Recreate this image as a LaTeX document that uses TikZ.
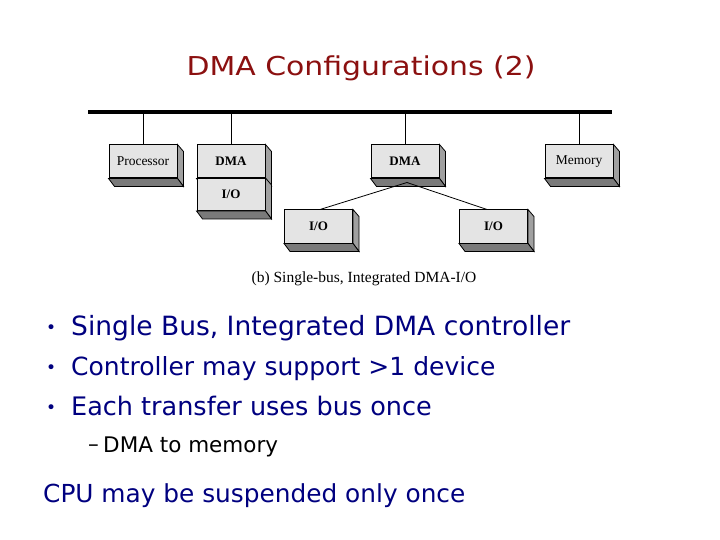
\documentclass[tikz,border=0pt]{standalone}
\usepackage{fontspec}
\setmainfont{DejaVu Sans}
\newfontfamily\titlefont[FakeStretch=1.15]{DejaVu Sans}
\newfontfamily\boxfont{Liberation Serif}
\usetikzlibrary{calc}
\definecolor{titlered}{HTML}{8B1010}
\definecolor{navy}{HTML}{00007F}
\definecolor{boxfront}{HTML}{E4E4E4}
\definecolor{boxside}{HTML}{A0A0A0}
\definecolor{boxbottom}{HTML}{7A7A7A}
\newcommand\ExtrudeBox[1]{%
  \filldraw[sideface] (#1.north east) -- ++(6,7) -- ($(#1.south east)+(6,8)$) -- (#1.south east) -- cycle;
  \filldraw[bottomface] (#1.south west) -- (#1.south east) -- ++(6,8) -- ($(#1.south west)+(6,8)$) -- cycle;
}
\begin{document}
\begin{tikzpicture}[x=1pt,y=-1pt,
 unit/.style={draw=black, line width=1pt, fill=boxfront, minimum width=68pt, minimum height=33pt, inner sep=0pt, font=\boxfont\fontsize{13.5}{15}\selectfont},
 unitb/.style={unit, font=\boxfont\bfseries\fontsize{13}{15}\selectfont},
 sideface/.style={draw=black, line width=0.8pt, fill=boxside},
 bottomface/.style={draw=black, line width=0.8pt, fill=boxbottom},
 link/.style={line width=0.8pt},
 bus/.style={line width=4.5pt},
 bul/.style={anchor=base west, inner sep=0pt, text=navy, font=\fontsize{25.5}{30}\selectfont},
 dot/.style={anchor=base west, inner sep=0pt, text=navy, font=\fontsize{17}{20}\selectfont},
 sub/.style={anchor=base west, inner sep=0pt, text=black, font=\fontsize{21.5}{26}\selectfont}
]
\useasboundingbox (0,0) rectangle (720,540);

% title
\node[text=titlered, font=\titlefont\fontsize{26}{30}\selectfont, inner sep=0pt] (title) at (361,68) {DMA Configurations (2)};

% bus
\coordinate (busL) at (88,112);
\coordinate (busR) at (612,112);
\draw[bus] (busL) -- (busR);

% units
\node[unit] (proc) at (143,161.5) {Processor};
\ExtrudeBox{proc}
\node[unitb] (dma1) at (231,161.5) {DMA};
\ExtrudeBox{dma1}
\node[unitb, minimum height=32pt] (io1) at (231,194.5) {I/O};
\ExtrudeBox{io1}
\node[unitb] (dma2) at (405,161.5) {DMA};
\ExtrudeBox{dma2}
\node[unit] (mem) at (579,161.5) {Memory};
\ExtrudeBox{mem}
\node[unitb] (io2) at (318.5,226.5) {I/O};
\ExtrudeBox{io2}
\node[unitb] (io3) at (493.5,226.5) {I/O};
\ExtrudeBox{io3}

% bus taps
\draw[link] (proc.north) -- (proc.north |- busL);
\draw[link] (dma1.north) -- (dma1.north |- busL);
\draw[link] (dma2.north) -- (dma2.north |- busL);
\draw[link] (mem.north) -- (mem.north |- busL);

% DMA to I/O links
\coordinate (dmab) at ($(dma2.south)+(2,4)$);
\draw[link] (dmab) -- ($(io2.north)+(1.5,0)$);
\draw[link] (dmab) -- ($(io3.north)+(-6.5,0)$);

% caption
\node[font=\boxfont\fontsize{15.5}{18}\selectfont, inner sep=0pt] (cap) at (364,279) {(b) Single-bus, Integrated DMA-I/O};

% bullets
\node[dot] (b1d) at (46,333) {•};
\node[bul, font=\fontsize{26.5}{30}\selectfont] (b1) at (71,335) {Single Bus, Integrated DMA controller};
\node[dot] (b2d) at (46,373) {•};
\node[bul, font=\fontsize{25}{30}\selectfont] (b2) at (71,375) {Controller may support >1 device};
\node[dot] (b3d) at (46,413) {•};
\node[bul] (b3) at (71,415) {Each transfer uses bus once};
\node[sub] (s1d) at (88,451) {–};
\node[sub] (s1) at (103,452) {DMA to memory};
\node[bul, font=\fontsize{24.8}{30}\selectfont] (last) at (43,502) {CPU may be suspended only once};
\end{tikzpicture}
\end{document}
